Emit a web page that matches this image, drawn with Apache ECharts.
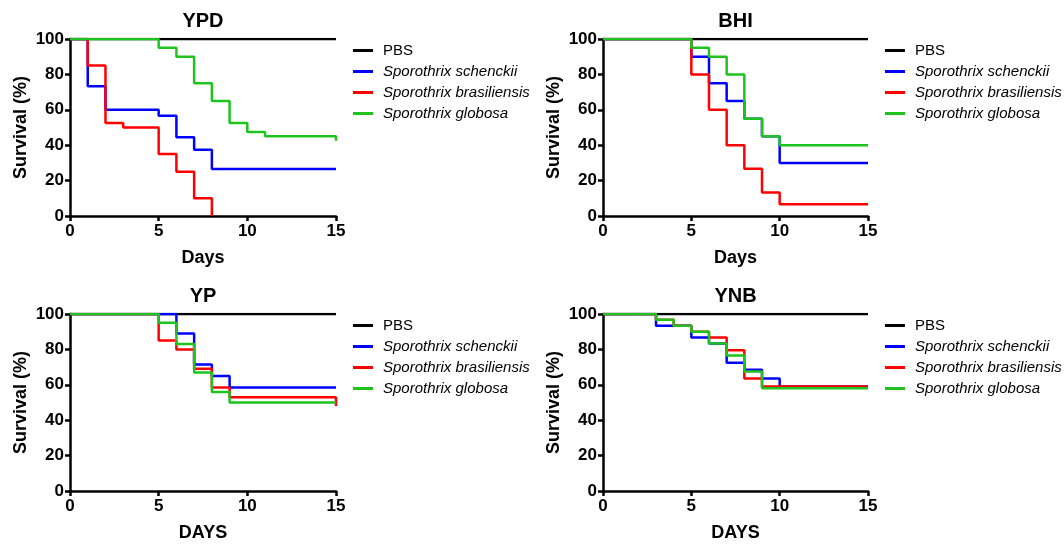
<!DOCTYPE html>
<html>
<head>
<meta charset="utf-8">
<script src="https://cdn.jsdelivr.net/npm/echarts@6/dist/echarts.min.js"></script>
<style>
    html,body{margin:0;padding:0;background:#fff;}
    #main{width:1064px;height:544px;}
</style>
</head>
<body>
<div id="main"></div>
<script>
// 四种培养基下的生存曲线, 每个点 [天数, 存活率%]
var panels = ['YPD', 'BHI', 'YP', 'YNB'];
var xNames = ['Days', 'Days', 'DAYS', 'DAYS'];
var strains = ['PBS', 'Sporothrix schenckii', 'Sporothrix brasiliensis', 'Sporothrix globosa'];
var colors = ['#000000', '#0000ff', '#ff0000', '#1ec31e'];

var dayTicks = [0, 5, 10, 15];
var survivalTicks = [0, 20, 40, 60, 80, 100];

var ypdPBS = [[0, 100], [15, 100]];
var ypdSchenckii = [[0, 100], [1, 73.3], [2, 60], [5, 56.7], [6, 44.5], [7, 37.5], [8, 26.5], [15, 26.5]];
var ypdBrasiliensis = [[0, 100], [1, 85], [2, 52.5], [3, 50], [5, 35], [6, 25], [7, 10], [8, 0]];
var ypdGlobosa = [[0, 100], [5, 95], [6, 90], [7, 75], [8, 65], [9, 52.5], [10, 47.5], [11, 45], [15, 42.5]];

var bhiPBS = [[0, 100], [15, 100]];
var bhiSchenckii = [[0, 100], [5, 90], [6, 75], [7, 65], [8, 55], [9, 45], [10, 30], [15, 30]];
var bhiBrasiliensis = [[0, 100], [5, 80], [6, 60], [7, 40], [8, 26.7], [9, 13.3], [10, 6.7], [15, 6.7]];
var bhiGlobosa = [[0, 100], [5, 95], [6, 90], [7, 80], [8, 55], [9, 45], [10, 40], [15, 40]];

var ypPBS = [[0, 100], [15, 100]];
var ypSchenckii = [[0, 100], [6, 89], [7, 71.5], [8, 65], [9, 58.5], [15, 58.5]];
var ypBrasiliensis = [[0, 100], [5, 85], [6, 80], [7, 69], [8, 58.5], [9, 53], [15, 48]];
var ypGlobosa = [[0, 100], [5, 95], [6, 83], [7, 67], [8, 56], [9, 50], [15, 50]];

var ynbPBS = [[0, 100], [15, 100]];
var ynbSchenckii = [[0, 100], [3, 93.3], [5, 86.7], [6, 83.3], [7, 72.5], [8, 68.5], [9, 63.5], [10, 59], [15, 59]];
var ynbBrasiliensis = [[0, 100], [3, 96.7], [4, 93.3], [5, 90], [6, 86.7], [7, 79.5], [8, 63.5], [9, 59], [15, 59]];
var ynbGlobosa = [[0, 100], [3, 96.7], [4, 93.3], [5, 90], [6, 83.3], [7, 76.5], [8, 67.5], [9, 58], [15, 58]];

var curves = [
    [ypdPBS, ypdSchenckii, ypdBrasiliensis, ypdGlobosa],
    [bhiPBS, bhiSchenckii, bhiBrasiliensis, bhiGlobosa],
    [ypPBS, ypSchenckii, ypBrasiliensis, ypGlobosa],
    [ynbPBS, ynbSchenckii, ynbBrasiliensis, ynbGlobosa]
];

// 布局
var boxes = [
    {left: 70, top: 39, width: 266, height: 177},
    {left: 603, top: 39, width: 265, height: 177},
    {left: 70, top: 314, width: 266, height: 177},
    {left: 603, top: 314, width: 265, height: 177}
];

var FONT = 'Liberation Sans, Arial, sans-serif';

var option = {
    animation: false,
    backgroundColor: '#fff',
    title: [],
    legend: [],
    grid: [],
    xAxis: [],
    yAxis: [],
    series: []
};

panels.forEach(function (p, i) {
    var b = boxes[i];
    option.grid.push({left: b.left, top: b.top, width: b.width, height: b.height});

    option.title.push({
        text: p,
        left: b.left + b.width / 2,
        top: b.top - 28,
        textAlign: 'center',
        padding: 0,
        textStyle: {fontFamily: FONT, fontWeight: 'bold', fontSize: 20, color: '#000'}
    });

    option.legend.push({
        orient: 'vertical',
        left: b.left + b.width + 17,
        top: b.top + 4,
        padding: 0,
        itemGap: 6,
        itemWidth: 20,
        itemHeight: 3,
        icon: 'rect',
        selectedMode: false,
        data: strains.map(function (s, k) {
            return {name: s, itemStyle: {color: colors[k]}};
        }),
        formatter: function (name) {
            return name === 'PBS' ? '{n|PBS}' : '{i|' + name + '}';
        },
        textStyle: {
            color: '#000',
            fontFamily: FONT,
            fontSize: 15,
            lineHeight: 14,
            rich: {
                n: {fontFamily: FONT, fontSize: 15, fontStyle: 'normal', color: '#000', padding: [0, 0, 0, 5]},
                i: {fontFamily: FONT, fontSize: 15, fontStyle: 'italic', color: '#000', padding: [0, 0, 0, 5]}
            }
        }
    });

    var axisLine = {show: true, onZero: false, lineStyle: {color: '#000', width: 2.5}};
    var axisTick = {show: true, length: 5, lineStyle: {color: '#000', width: 2.5}};

    option.xAxis.push({
        type: 'value',
        gridIndex: i,
        min: dayTicks[0],
        max: dayTicks[dayTicks.length - 1],
        interval: dayTicks[1] - dayTicks[0],
        name: xNames[i],
        nameLocation: 'middle',
        nameGap: 33,
        nameTextStyle: {fontFamily: FONT, fontWeight: 'bold', fontSize: 18, color: '#000'},
        axisLine: axisLine,
        axisTick: axisTick,
        splitLine: {show: false},
        axisLabel: {fontFamily: FONT, fontWeight: 'bold', fontSize: 17, color: '#000', margin: 7}
    });

    option.yAxis.push({
        type: 'value',
        gridIndex: i,
        min: survivalTicks[0],
        max: survivalTicks[survivalTicks.length - 1],
        interval: survivalTicks[1] - survivalTicks[0],
        name: 'Survival (%)',
        nameLocation: 'middle',
        nameGap: 40,
        nameTextStyle: {fontFamily: FONT, fontWeight: 'bold', fontSize: 18, color: '#000'},
        axisLine: axisLine,
        axisTick: axisTick,
        splitLine: {show: false},
        axisLabel: {fontFamily: FONT, fontWeight: 'bold', fontSize: 17, color: '#000', margin: 6}
    });

    curves[i].forEach(function (d, k) {
        option.series.push({
            name: strains[k],
            type: 'line',
            xAxisIndex: i,
            yAxisIndex: i,
            step: 'end',
            symbol: 'none',
            data: d,
            color: colors[k],
            lineStyle: {color: colors[k], width: 2.5},
            z: 2 + k
        });
    });
});

var myChart = echarts.init(document.getElementById('main'));
myChart.setOption(option);
</script>
</body>
</html>
